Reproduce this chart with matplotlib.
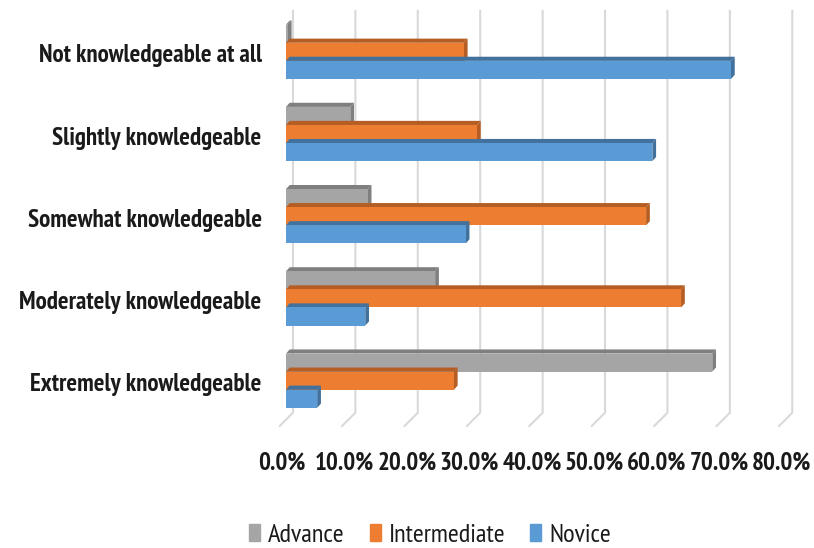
import numpy as np
import matplotlib.pyplot as plt
from matplotlib.patches import Polygon

categories = ['Extremely knowledgeable', 'Moderately knowledgeable', 'Somewhat knowledgeable',
              'Slightly knowledgeable', 'Not knowledgeable at all']
advance = [68.3, 23.9, 13.1, 10.3, 0.3]
intermediate = [26.9, 63.3, 57.7, 30.6, 28.5]
novice = [5.0, 12.7, 28.8, 58.7, 71.3]
series_names = ['Advance', 'Intermediate', 'Novice']
xticks = [0, 10, 20, 30, 40, 50, 60, 70, 80]

face = ['#A5A5A5', '#ED7D31', '#5B9BD5']
dark = ['#7F7F7F', '#B55D22', '#41719C']

font = ['PT Sans Narrow', 'DejaVu Sans']
plt.rcParams['font.family'] = font

fig = plt.figure(figsize=(8.14, 5.48), dpi=100)
ax = fig.add_axes([270/814, 118/548, 544/814, 430/548])
ax.set_xlim(-2.56, 84.6)
ax.set_ylim(-0.6, 4.63)
ax.axis('off')

# back wall gridlines with a slanted floor edge
gdx = 1.12
for v in xticks:
    ax.plot([v + gdx, v + gdx, v - gdx], [4.51, -0.39, -0.56],
            color='#D9D9D9', lw=1.5, zorder=0, solid_capstyle='butt')

y = np.arange(len(categories))
bh = 0.22
ddx, ddy = 0.6, 0.05
for k, vals in enumerate([advance, intermediate, novice]):
    off = (1 - k) * bh
    for yi, v in zip(y, vals):
        yb = yi + off - bh / 2
        yt = yb + bh
        # top face and right side face
        ax.add_patch(Polygon([(0, yt), (v, yt), (v + ddx, yt + ddy), (ddx, yt + ddy)],
                             closed=True, fc=dark[k], ec='none', zorder=2 + k))
        ax.add_patch(Polygon([(v, yb), (v, yt), (v + ddx, yt + ddy), (v + ddx, yb + ddy)],
                             closed=True, fc=dark[k], ec='none', zorder=2 + k))
    ax.barh(y + off, vals, height=bh, color=face[k], zorder=2 + k, label=series_names[k])

for yi, c in zip(y, categories):
    ax.text(-3.9, yi - 0.05, c, ha='right', va='center', fontsize=18,
            color='#1a1a1a', fontweight='bold')

for v in xticks:
    ax.text(v - 0.6, -1.0, '%.1f%%' % v, ha='center', va='center', fontsize=18,
            color='#1a1a1a', fontweight='bold', clip_on=False)

handles = [plt.Rectangle((0, 0), 1, 1, color=c) for c in face]
leg = fig.legend(handles, series_names, loc='center', bbox_to_anchor=(430/814, 1 - 535/548),
                 ncol=3, frameon=False, handlelength=0.42, handleheight=0.6,
                 handletextpad=0.3, columnspacing=0.95,
                 prop={'family': font, 'size': 19})
for t in leg.get_texts():
    t.set_color('#1a1a1a')

fig.savefig('out.png', dpi=100)
